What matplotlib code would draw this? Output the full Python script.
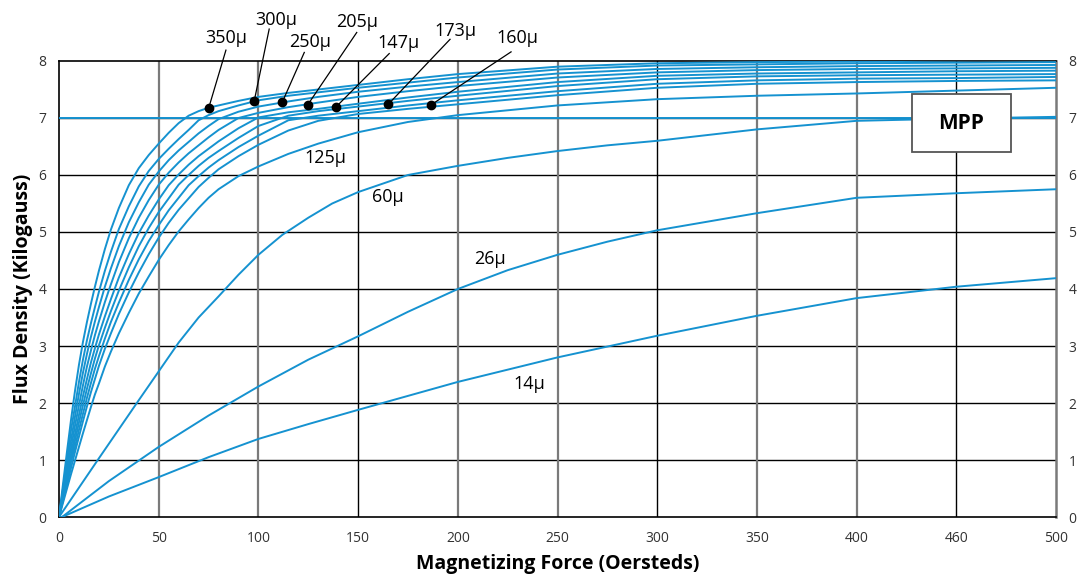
import numpy as np
import matplotlib.pyplot as plt

# Magnetizing force (Oersteds) sample points for the high-perm curves
H = [0, 2, 4, 6, 8, 10, 12, 14, 16, 18, 20, 23, 26, 30, 35, 40, 45, 50, 55, 60, 65,
     70, 75, 80, 90, 100, 115, 130, 150, 175, 200, 250, 300, 350, 400, 450, 500]

# Flux density (kG), top curve first
B_350 = [0, 0.58, 1.15, 1.70, 2.21, 2.67, 3.07, 3.42, 3.74, 4.04, 4.32, 4.70, 5.04, 5.42,
         5.82, 6.12, 6.35, 6.55, 6.74, 6.91, 7.04, 7.12, 7.18, 7.22, 7.30, 7.37, 7.44,
         7.50, 7.58, 7.68, 7.77, 7.90, 7.96, 7.98, 7.99, 8.01, 8.04]
B_300 = [0, 0.50, 0.99, 1.52, 1.94, 2.37, 2.76, 3.10, 3.40, 3.68, 3.95, 4.32, 4.65, 5.05,
         5.45, 5.80, 6.07, 6.28, 6.46, 6.63, 6.79, 6.96, 7.05, 7.12, 7.22, 7.31, 7.39,
         7.45, 7.53, 7.62, 7.71, 7.85, 7.92, 7.94, 7.96, 7.97, 7.98]
B_250 = [0, 0.45, 0.94, 1.34, 1.76, 2.16, 2.53, 2.86, 3.16, 3.43, 3.68, 4.04, 4.36, 4.75,
         5.17, 5.52, 5.83, 6.06, 6.26, 6.43, 6.58, 6.73, 6.86, 6.98, 7.11, 7.20, 7.29,
         7.37, 7.46, 7.55, 7.63, 7.78, 7.86, 7.89, 7.91, 7.92, 7.93]
B_205 = [0, 0.41, 0.85, 1.21, 1.60, 1.96, 2.31, 2.64, 2.92, 3.19, 3.43, 3.77, 4.08, 4.47,
         4.89, 5.25, 5.56, 5.83, 6.04, 6.22, 6.38, 6.52, 6.66, 6.79, 7.00, 7.09, 7.19,
         7.27, 7.37, 7.47, 7.56, 7.71, 7.80, 7.84, 7.86, 7.87, 7.88]
B_173 = [0, 0.37, 0.74, 1.10, 1.45, 1.79, 2.12, 2.42, 2.71, 2.96, 3.20, 3.52, 3.82, 4.20,
         4.61, 4.98, 5.29, 5.57, 5.82, 6.01, 6.18, 6.33, 6.46, 6.59, 6.82, 7.01, 7.10,
         7.16, 7.25, 7.36, 7.46, 7.63, 7.74, 7.78, 7.80, 7.82, 7.83]
B_160 = [0, 0.34, 0.68, 1.01, 1.34, 1.66, 1.96, 2.25, 2.52, 2.78, 3.01, 3.32, 3.61, 3.97,
         4.38, 4.75, 5.07, 5.35, 5.59, 5.83, 6.00, 6.16, 6.30, 6.42, 6.65, 6.86, 7.04,
         7.12, 7.20, 7.30, 7.39, 7.56, 7.68, 7.73, 7.75, 7.76, 7.77]
B_147 = [0, 0.31, 0.62, 0.97, 1.23, 1.53, 1.81, 2.09, 2.35, 2.60, 2.82, 3.13, 3.42, 3.76,
         4.16, 4.52, 4.84, 5.12, 5.38, 5.60, 5.82, 5.98, 6.13, 6.26, 6.49, 6.69, 6.96,
         7.04, 7.12, 7.22, 7.31, 7.47, 7.60, 7.66, 7.69, 7.70, 7.72]
B_x = [0, 0.29, 0.57, 0.86, 1.14, 1.41, 1.68, 1.94, 2.19, 2.42, 2.65, 2.95, 3.22, 3.56,
       3.94, 4.29, 4.61, 4.90, 5.16, 5.39, 5.59, 5.79, 5.95, 6.10, 6.33, 6.53, 6.78,
       6.95, 7.07, 7.16, 7.24, 7.40, 7.53, 7.60, 7.63, 7.65, 7.66]
B_125 = [0, 0.25, 0.50, 0.75, 0.99, 1.23, 1.47, 1.70, 1.93, 2.15, 2.34, 2.64, 2.90, 3.22,
         3.58, 3.92, 4.22, 4.51, 4.77, 5.01, 5.22, 5.42, 5.60, 5.75, 5.98, 6.15, 6.37,
         6.55, 6.75, 6.93, 7.05, 7.22, 7.33, 7.39, 7.43, 7.48, 7.53]

H_60 = [0, 20, 40, 60, 70, 80, 90, 100, 112, 125, 137, 150, 175, 200, 225, 250, 275,
        300, 350, 400, 450, 500]
B_60 = [0, 1.03, 2.05, 3.06, 3.50, 3.87, 4.25, 4.60, 4.95, 5.25, 5.50, 5.70, 6.00, 6.16,
        6.30, 6.42, 6.52, 6.60, 6.80, 6.95, 6.99, 7.02]

H_26 = [1.5, 25, 50, 75, 100, 125, 150, 175, 200, 225, 250, 275, 300, 350, 400, 450, 500]
B_26 = [0, 0.63, 1.23, 1.78, 2.29, 2.76, 3.17, 3.60, 4.00, 4.33, 4.60, 4.83, 5.03, 5.33,
        5.60, 5.68, 5.75]

H_14 = [1.5, 25, 50, 75, 100, 125, 150, 200, 250, 300, 350, 400, 450, 500]
B_14 = [0, 0.36, 0.70, 1.05, 1.37, 1.63, 1.88, 2.37, 2.80, 3.18, 3.53, 3.84, 4.04, 4.19]

# labels with leader lines: text, text pos, dot pos, line end
callouts = [
    ("350μ", (83.8, 8.40), (75.1, 7.18), (83.7, 8.19)),
    ("300μ", (108.8, 8.72), (97.9, 7.30), (105.4, 8.56)),
    ("250μ", (125.9, 8.33), (112.0, 7.28), (123.0, 8.15)),
    ("205μ", (149.4, 8.68), (124.7, 7.23), (149.3, 8.50)),
    ("147μ", (170.0, 8.32), (138.8, 7.19), (165.6, 8.13)),
    ("173μ", (198.6, 8.53), (165.1, 7.24), (196.1, 8.38)),
    ("160μ", (230.0, 8.40), (186.6, 7.23), (226.7, 8.16)),
]
plain_labels = [("125μ", (133.4, 6.30)), ("60μ", (165.0, 5.61)),
                ("26μ", (216.0, 4.53)), ("14μ", (236.0, 2.33))]

xticks = [0, 50, 100, 150, 200, 250, 300, 350, 400, 450, 500]
xticklabels = ["0", "50", "100", "150", "200", "250", "300", "350", "400", "460", "500"]

plt.rcParams['font.family'] = ['Open Sans', 'DejaVu Sans']
blue = '#1592d0'

fig = plt.figure(figsize=(10.81, 5.78), dpi=100)
ax = fig.add_axes([0.0546, 0.1055, 0.9223, 0.789])

for B in [B_350, B_300, B_250, B_205, B_173, B_160, B_147, B_x, B_125]:
    ax.plot(H, B, color=blue, lw=1.4, zorder=3)
ax.plot(H_60, B_60, color=blue, lw=1.4, zorder=3)
ax.plot(H_26, B_26, color=blue, lw=1.4, zorder=3)
ax.plot(H_14, B_14, color=blue, lw=1.4, zorder=3)
ax.axhline(7, color=blue, lw=1.4, zorder=3)

ax.set_xlim(0, 500)
ax.set_ylim(0, 8)

# grid
for y in range(1, 8):
    ax.axhline(y, color='black', lw=1.0, zorder=1)
for x in [50, 100, 200, 250, 350, 400]:
    ax.axvline(x, color='#7a7a7a', lw=1.6, zorder=1)
for x in [150, 300, 450]:
    ax.axvline(x, color='black', lw=1.0, zorder=1)

for side in ['left', 'top', 'bottom']:
    ax.spines[side].set_color('black')
    ax.spines[side].set_linewidth(1.2)
ax.spines['right'].set_color('#7a7a7a')
ax.spines['right'].set_linewidth(1.8)

ax.set_xticks(xticks)
ax.set_xticklabels(xticklabels)
ax.set_yticks(range(0, 9))
ax.tick_params(axis='both', length=0, labelsize=10, labelcolor='#333333')
ax.tick_params(axis='x', pad=10)
ax.tick_params(axis='y', pad=9, right=True, labelright=True)

ax.set_xlabel("Magnetizing Force (Oersteds)", fontsize=14, fontweight='bold', labelpad=6)
ax.set_ylabel("Flux Density (Kilogauss)", fontsize=14, fontweight='bold', labelpad=4)

for txt, tpos, dpos, lend in callouts:
    ax.plot([dpos[0], lend[0]], [dpos[1], lend[1]], color='black', lw=0.9,
            clip_on=False, zorder=5)
    ax.plot(dpos[0], dpos[1], 'o', color='black', ms=6, zorder=6)
    ax.text(tpos[0], tpos[1], txt, fontsize=13, ha='center', va='center',
            clip_on=False, zorder=6)

for txt, pos in plain_labels:
    ax.text(pos[0], pos[1], txt, fontsize=13, ha='center', va='center', zorder=6)

ax.text(452.6, 6.91, "MPP", fontsize=15, fontweight='bold', ha='center', va='center',
        zorder=8)
box = plt.Rectangle((427.8, 6.40), 49.6, 1.02, facecolor='white', edgecolor='#555555',
                    lw=1.3, zorder=7)
ax.add_patch(box)

fig.savefig("out.png", dpi=100)
